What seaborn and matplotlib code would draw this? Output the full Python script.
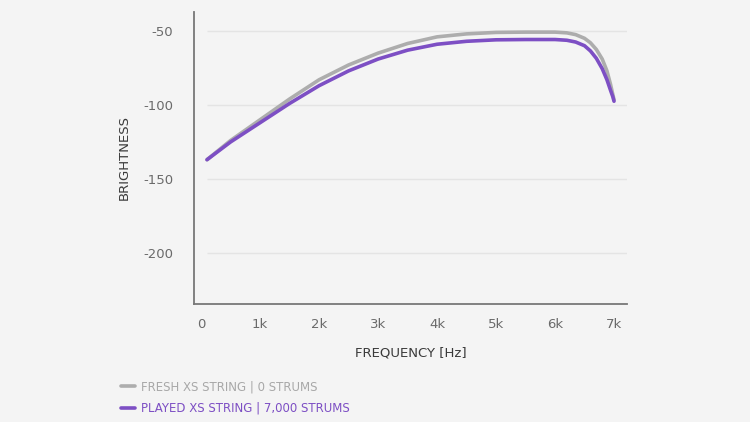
import pandas as pd
import numpy as np
import matplotlib
matplotlib.use('Agg')
import matplotlib.pyplot as plt
import seaborn as sns

# Values
freq = [100, 500, 1000, 1500, 2000, 2500, 3000, 3500, 4000, 4500, 5000, 5500,
        6000, 6200, 6350, 6500, 6600, 6700, 6800, 6880, 6940, 6980, 7000]
fresh = [-137, -124, -110, -96, -83, -73, -65, -58.5, -54, -52, -51, -50.8,
         -50.8, -51.3, -52.5, -55, -58, -62.5, -69, -77, -86, -93, -96.5]
played = [-137, -125, -112, -99, -87, -77, -69, -63, -59, -57, -56, -55.8,
          -55.8, -56.3, -57.5, -60, -63.5, -68.5, -75.5, -83, -90, -94.5, -97.5]
fresh_label = 'FRESH XS STRING | 0 STRUMS'
played_label = 'PLAYED XS STRING | 7,000 STRUMS'
yticks = [-50, -100, -150, -200]
xticks = [0, 1000, 2000, 3000, 4000, 5000, 6000, 7000]
xticklabels = ['0', '1k', '2k', '3k', '4k', '5k', '6k', '7k']

df = pd.DataFrame({
    'freq': freq + freq,
    'brightness': fresh + played,
    'string': [fresh_label] * len(freq) + [played_label] * len(freq),
})

gray = '#adadad'
purple = '#7d4fc4'
bg = '#f4f4f4'

sns.set_style('white')
plt.rcParams['font.family'] = ['DejaVu Sans']
plt.rcParams['axes.unicode_minus'] = False

fig = plt.figure(figsize=(7.5, 4.22), dpi=100, facecolor=bg)
ax = fig.add_axes([0.2587, 0.2796, 0.5773, 0.692])
ax.set_facecolor(bg)

# light horizontal grid lines
ax.hlines(yticks, 100, 7220, color='#e4e4e4', lw=1, zorder=0)

sns.lineplot(data=df, x='freq', y='brightness', hue='string',
             palette={fresh_label: gray, played_label: purple},
             lw=2.6, ax=ax, legend=False)

ax.set_xlim(-120, 7220)
ax.set_ylim(-234.5, -37.2)
ax.set_xticks(xticks)
ax.set_xticklabels(xticklabels)
ax.set_yticks(yticks)
ax.tick_params(length=0, labelsize=9.5, colors='#6a6a6a', pad=10)
ax.tick_params(axis='y', pad=15)

for side in ['top', 'right']:
    ax.spines[side].set_visible(False)
for side in ['left', 'bottom']:
    ax.spines[side].set_color('#777777')
    ax.spines[side].set_linewidth(1.3)

ax.set_xlabel('FREQUENCY [Hz]', fontsize=9.5, color='#3a3a3a', labelpad=11)
ax.set_ylabel('BRIGHTNESS', fontsize=9.5, color='#3a3a3a', labelpad=9)

# legend at the bottom left
handles = [plt.Line2D([], [], color=gray, lw=2.6),
           plt.Line2D([], [], color=purple, lw=2.6)]
leg = fig.legend(handles, [fresh_label, played_label], loc='lower left',
                 bbox_to_anchor=(0.147, -0.008), frameon=False, fontsize=8.5,
                 handlelength=1.2, handletextpad=0.5, labelspacing=0.7)
leg.get_texts()[0].set_color('#a8a8a8')
leg.get_texts()[1].set_color(purple)

fig.savefig('out.png', dpi=100, facecolor=bg)
